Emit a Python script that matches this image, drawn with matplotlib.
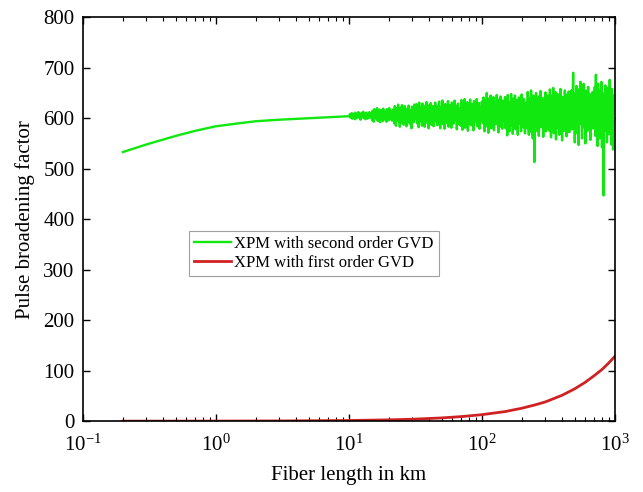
import numpy as np
import matplotlib
matplotlib.use("Agg")
import matplotlib.pyplot as plt

plt.rcParams['font.family'] = ['Liberation Serif', 'DejaVu Serif']
plt.rcParams['mathtext.fontset'] = 'stix'

# smooth part of the second order GVD curve
L_smooth = [0.2, 0.3, 0.5, 0.7, 1, 1.5, 2, 3, 5, 7, 10]
pbf_smooth = [533, 548, 565, 575, 584, 590, 594, 597, 600, 602, 604]

# noisy part, 10 km .. 1000 km, log spaced samples
pbf_noisy = [
    604, 608, 601, 606, 610, 599, 605, 609, 602, 607, 598, 611, 604, 600, 608, 603, 612, 601, 606, 609,
    597, 605, 610, 602, 607, 613, 600, 604, 609, 598, 606, 611, 603, 599, 608, 605, 612, 601, 607, 604,
    610, 596, 615, 603, 593, 618, 606, 599, 614, 601, 620, 595, 609, 604, 617, 592, 611, 600, 616, 605,
    594, 619, 602, 612, 597, 615, 606, 593, 618, 601, 609, 596, 620, 604, 598, 614, 607, 595, 617, 603,
    615, 590, 624, 602, 585, 620, 609, 596, 627, 594, 613, 583, 621, 605, 591, 626, 599, 617, 587, 610,
    624, 597, 606, 584, 619, 612, 593, 625, 601, 589, 616, 608, 580, 623, 598, 614, 592, 627, 604, 611,
    598, 628, 590, 617, 606, 582, 631, 600, 622, 594, 612, 585, 629, 608, 597, 624, 583, 615, 603, 632,
    591, 619, 606, 580, 626, 611, 595, 630, 587, 618, 601, 624, 584, 613, 607, 631, 593, 620, 599, 586,
    625, 592, 633, 604, 580, 621, 612, 596, 635, 588, 617, 606, 579, 628, 600, 623, 590, 614, 634, 583,
    609, 626, 597, 618, 581, 631, 603, 620, 589, 612, 635, 595, 607, 624, 578, 616, 629, 599, 611, 587,
    620, 585, 636, 603, 577, 627, 612, 594, 638, 581, 618, 606, 589, 632, 575, 623, 609, 596, 637, 586,
    614, 628, 599, 619, 576, 634, 605, 625, 592, 611, 638, 584, 617, 601, 630, 579, 622, 608, 595, 633,
    628, 590, 641, 606, 574, 636, 615, 584, 650, 598, 622, 571, 639, 609, 593, 645, 580, 626, 612, 599,
    642, 576, 631, 604, 618, 588, 646, 595, 624, 572, 637, 611, 583, 643, 602, 629, 579, 635, 614, 596,
    603, 642, 580, 628, 612, 566, 646, 595, 633, 574, 620, 605, 648, 585, 626, 569, 639, 610, 592, 645,
    578, 622, 600, 636, 567, 615, 641, 589, 628, 603, 574, 647, 596, 621, 582, 638, 608, 570, 631, 613,
    630, 580, 652, 604, 567, 640, 615, 590, 655, 572, 625, 560, 645, 608, 513, 635, 598, 650, 575, 620,
    604, 643, 565, 628, 612, 654, 582, 618, 596, 640, 563, 632, 607, 588, 651, 574, 623, 601, 645, 578,
    640, 575, 657, 600, 562, 645, 618, 585, 660, 570, 628, 595, 652, 558, 622, 606, 648, 580, 635, 567,
    615, 658, 590, 625, 556, 642, 603, 630, 575, 655, 598, 620, 564, 647, 610, 586, 653, 572, 632, 605,
    615, 655, 578, 632, 690, 590, 625, 552, 650, 600, 664, 570, 638, 612, 547, 658, 588, 672, 602, 630,
    560, 645, 615, 668, 582, 628, 550, 655, 598, 640, 575, 662, 608, 585, 648, 557, 635, 620, 580, 652,
    580, 650, 612, 662, 565, 686, 600, 640, 545, 668, 588, 628, 560, 655, 598, 672, 542, 638, 615, 447,
    650, 575, 665, 595, 630, 552, 660, 605, 640, 568, 676, 590, 625, 548, 658, 610, 538, 645, 585, 622,
]
L_noisy = np.logspace(1, 3, len(pbf_noisy) + 1)[1:]

# first order GVD curve
L_first = [0.2, 1, 3, 10, 20, 30, 50, 70, 100, 150, 200, 250, 300, 400, 500, 600, 700, 800, 900, 1000]
pbf_first = [0.03, 0.13, 0.4, 1.3, 2.6, 3.8, 6.4, 9, 12.8, 19, 25.6, 32, 38, 51, 64, 77, 90, 102, 115, 128]

L_second = np.concatenate([L_smooth, L_noisy])
pbf_second = np.concatenate([pbf_smooth, pbf_noisy])

fig = plt.figure(figsize=(6.43, 4.92), dpi=100)
ax = fig.add_axes([0.129, 0.144, 0.827, 0.821])

ax.plot(L_second, pbf_second, color='#10e810', lw=1.7, label='XPM with second order GVD')
ax.plot(L_first, pbf_first, color='#d02222', lw=2.0, label='XPM with first order GVD')

ax.set_xscale('log')
ax.set_xlim(0.1, 1000)
ax.set_ylim(0, 800)
ax.set_yticks(range(0, 801, 100))
ax.tick_params(which='both', direction='in', top=True, right=True, labelsize=15)
ax.tick_params(which='major', length=5, width=1)
ax.tick_params(which='minor', length=3, width=0.8)
ax.tick_params(axis='x', which='major', pad=10)
ax.tick_params(axis='y', which='major', pad=6)
for s in ax.spines.values():
    s.set_linewidth(1.2)

ax.set_xlabel('Fiber length in km', fontsize=15, labelpad=7)
ax.set_ylabel('Pulse broadening factor', fontsize=15, labelpad=6)

leg = ax.legend(loc='upper left', bbox_to_anchor=(0.2, 0.47), fontsize=12,
                fancybox=False, handlelength=2.2, handletextpad=0.2,
                borderpad=0.3, labelspacing=0.15, borderaxespad=0)
leg.get_frame().set_edgecolor('#888888')
leg.get_frame().set_linewidth(0.8)

plt.savefig('out.png', dpi=100)
